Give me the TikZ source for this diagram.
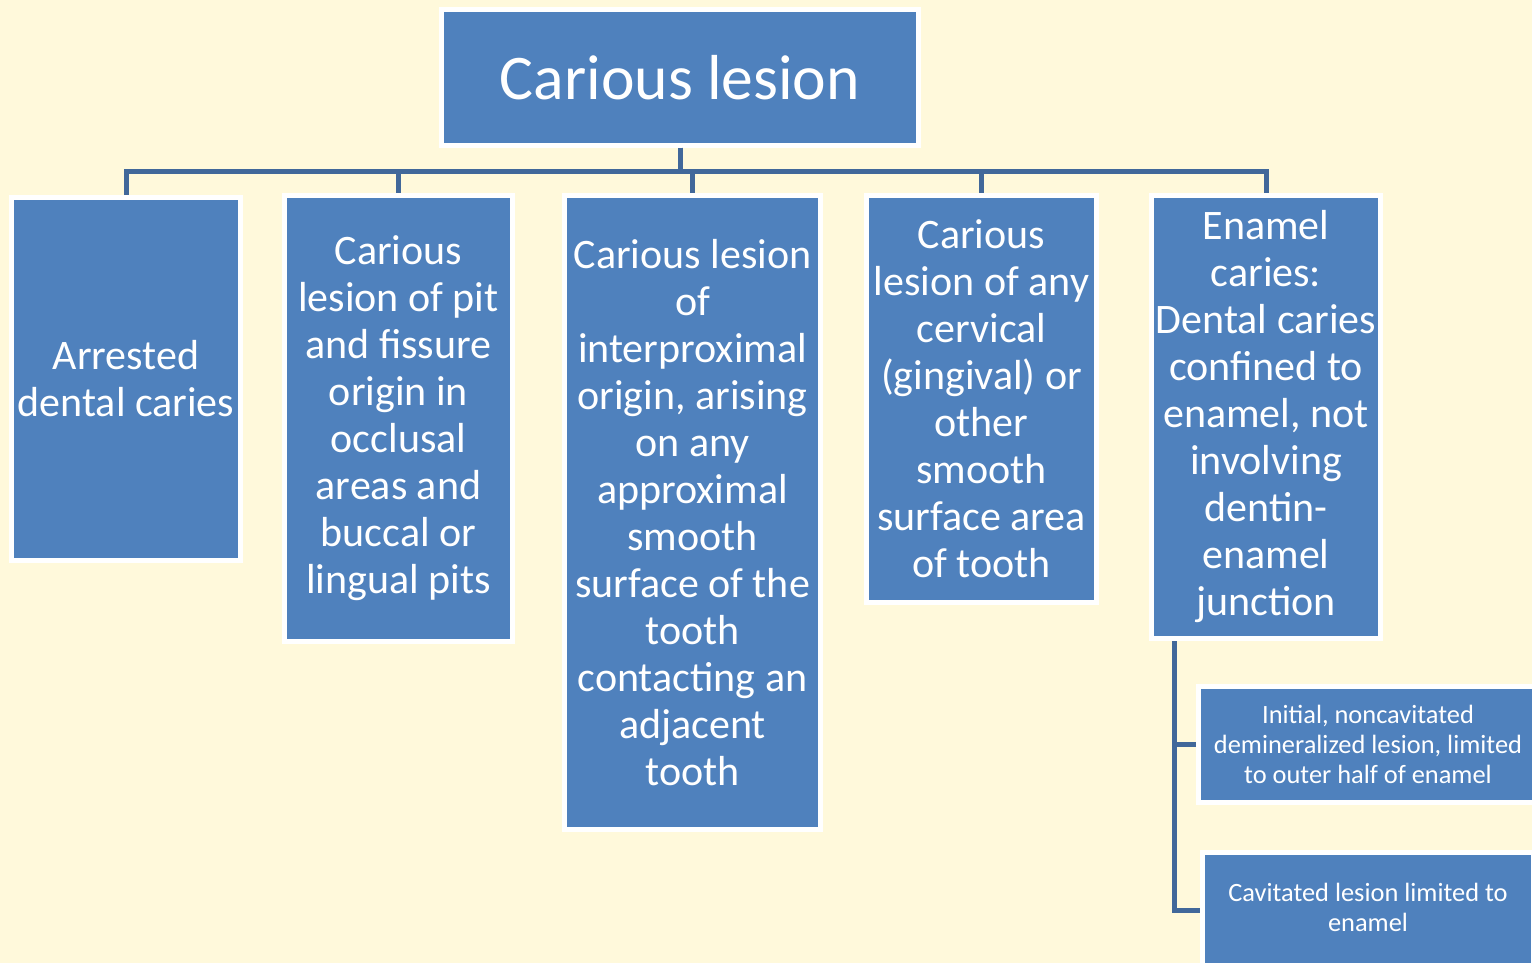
\documentclass[tikz,border=0pt]{standalone}
\usepackage{fontspec}
\setmainfont{Carlito}
\definecolor{boxColor}{HTML}{4F81BD}
\definecolor{lnColor}{HTML}{41689A}
\definecolor{bgColor}{HTML}{FFF9DB}
\tikzset{
	cbox/.style={draw=white, line width=2.5pt, fill=boxColor, text=white, align=center,
		inner sep=1pt, font=\fontsize{21}{23.5}\selectfont},
	sbox/.style={cbox, font=\fontsize{13.2}{15}\selectfont},
	conn/.style={draw=lnColor, line width=2.5pt}
}

\begin{document}
\begin{tikzpicture}[x=0.5pt, y=-0.5pt]
\useasboundingbox (0,0) rectangle (1532,963);
\clip (0,0) rectangle (1532,963);
\fill[bgColor] (0,0) rectangle (1532,963);

\node[cbox, minimum width=238.5pt, minimum height=68pt, font=\fontsize{31.8}{36}\selectfont] (les) at (680, 77.5) {Carious lesion};
\node[cbox, minimum width=114.5pt, minimum height=181.5pt] (arr) at (126, 379) {Arrested\\dental caries};
\node[cbox, minimum width=114pt, minimum height=223pt] (pit) at (398.5, 418.5) {Carious\\lesion of pit\\and fissure\\origin in\\occlusal\\areas and\\buccal or\\lingual pits};
\node[cbox, minimum width=128pt, minimum height=317pt] (inter) at (692.5, 512.5) {Carious lesion\\of\\interproximal\\origin, arising\\on any\\approximal\\smooth\\surface of the\\tooth\\contacting an\\adjacent\\tooth};
\node[cbox, minimum width=115pt, minimum height=203.5pt] (cerv) at (981.5, 399) {Carious\\lesion of any\\cervical\\(gingival) or\\other\\smooth\\surface area\\of tooth};
\node[cbox, minimum width=114.5pt, minimum height=221.5pt] (enam) at (1266, 417) {Enamel\\caries:\\Dental caries\\confined to\\enamel, not\\involving\\dentin-\\enamel\\junction};
\node[sbox, minimum width=169.5pt, minimum height=58pt] (init) at (1368, 744.5) {Initial, noncavitated\\demineralized lesion, limited\\to outer half of enamel};
\node[sbox, minimum width=165.5pt, minimum height=69.5pt] (cav) at (1368, 922) {Cavitated lesion limited to\\enamel\\\mbox{}};

\coordinate (bar) at (680, 172);
\coordinate (stem) at (1174, 0);

\foreach \c in {arr,pit,inter,cerv,enam}
	\draw[conn] (les.south) |- (bar) -| (\c.north);

\draw[conn] (enam.south -| stem) |- (init.west);
\draw[conn] (enam.south -| stem) |- ([yshift=6pt]cav.west);
\end{tikzpicture}
\end{document}
